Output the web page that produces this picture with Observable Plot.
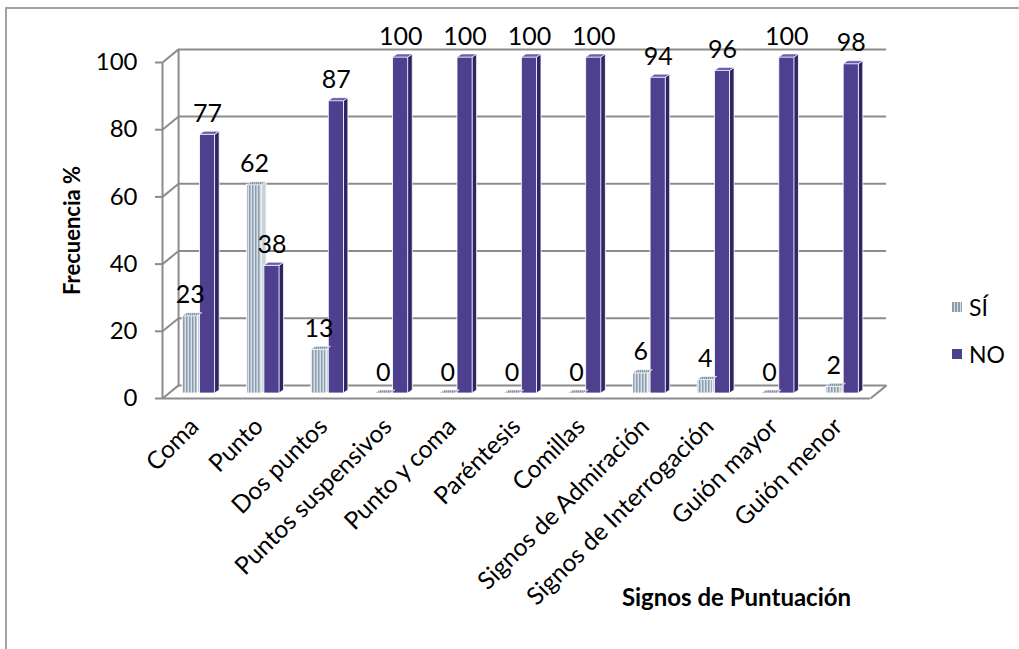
<!DOCTYPE html>
<html><head><meta charset="utf-8">
<script src="https://cdn.jsdelivr.net/npm/d3@7"></script>
<script src="https://cdn.jsdelivr.net/npm/@observablehq/plot@0.6"></script>
<style>
body{margin:0;overflow:hidden;background:#fff;font-family:Lato,sans-serif}
#wrap{position:relative;width:1019px;height:649px;overflow:hidden}
#border{position:absolute;left:5px;top:7px;width:1100px;height:800px;border-left:2px solid #a3a3a3;border-top:2px solid #a3a3a3}
#chart{position:absolute;left:0;top:0}
.leg{position:absolute;left:952px;font-size:23px;color:#000;display:flex;align-items:center}
.sw{width:10px;height:10px;margin-right:7px}
</style></head>
<body><div id="wrap"><div id="border"></div><div id="chart"></div>
<div class="leg" style="top:293px"><div class="sw" style="background:repeating-linear-gradient(90deg,#8a9cad 0 1.5px,#d8e0e7 1.5px 3px)"></div>SÍ</div>
<div class="leg" style="top:340px"><div class="sw" style="background:#4e3f8f"></div>NO</div>
</div>
<script>
const categories = ["Coma","Punto","Dos puntos","Puntos suspensivos","Punto y coma","Paréntesis","Comillas","Signos de Admiración","Signos de Interrogación","Guión mayor","Guión menor"];
const seriesNames = ["SÍ","NO"];
const si = [23,62,13,0,0,0,0,6,4,0,2];
const no = [77,38,87,100,100,100,100,94,96,100,98];
const yTicks = [0,20,40,60,80,100];

const FONT = "Lato, sans-serif";
const xDomain = [-0.5, categories.length - 0.5];
const depthX = 0.25, depthY = 3.9;     // back wall offset (scale units)
const sideW = 0.07, sideR = 0.9;       // bar side/top depth (scale units)
const barDx = 6, barDy = -5;

const bars = categories.flatMap((c, i) => [
  {k: c + "|SI", i, s: seriesNames[0], v: si[i], x1: i - 0.28, x2: i - 0.045},
  {k: c + "|NO", i, s: seriesNames[1], v: no[i], x1: i - 0.01, x2: i + 0.225}
]);
const sides = bars.flatMap(b => [
  {k: b.k, s: b.s, x: b.x2, y1: 0, y2: b.v},
  {k: b.k, s: b.s, x: b.x2 + sideW, y1: sideR, y2: b.v + sideR}
]);
const tops = bars.flatMap(b => [
  {k: b.k, s: b.s, x: b.x1, y1: b.v, y2: b.v},
  {k: b.k, s: b.s, x: b.x1 + sideW, y1: b.v, y2: b.v + sideR},
  {k: b.k, s: b.s, x: b.x2, y1: b.v, y2: b.v + sideR},
  {k: b.k, s: b.s, x: b.x2 + sideW, y1: b.v + sideR, y2: b.v + sideR}
]);
const faceFill = {"SÍ": "url(#siStripes)", "NO": "#4e3f8f"};
const sideFill = {"SÍ": "#c9d2da", "NO": "#2e2466"};
const topFill = {"SÍ": "url(#siTop)", "NO": "#6a5db0"};
const grid = "#8c8c8c";

const chart = Plot.plot({
  width: 1019, height: 649,
  marginLeft: 162, marginRight: 149, marginTop: 62, marginBottom: 251,
  x: {type: "linear", domain: xDomain, axis: null},
  y: {domain: [0, 100], axis: null},
  style: {fontFamily: FONT, color: "#000", background: "transparent"},
  marks: [
    Plot.ruleY(yTicks, {y: d => d + depthY, x1: xDomain[0] + depthX, x2: xDomain[1] + depthX, stroke: grid, strokeWidth: 2}),
    Plot.ruleX([xDomain[0] + depthX], {y1: depthY, y2: 100 + depthY, stroke: grid, strokeWidth: 2}),
    Plot.link(yTicks, {x1: xDomain[0], y1: d => d, x2: xDomain[0] + depthX, y2: d => d + depthY, stroke: grid, strokeWidth: 2}),
    Plot.link([0], {x1: xDomain[1], y1: 0, x2: xDomain[1] + depthX, y2: depthY, stroke: grid, strokeWidth: 2}),
    Plot.ruleY([0], {x1: xDomain[0], x2: xDomain[1], stroke: grid, strokeWidth: 2}),
    Plot.ruleX([xDomain[0]], {y1: 0, y2: 100, stroke: grid, strokeWidth: 2}),
    Plot.area(sides, {x1: "x", y1: "y1", y2: "y2", z: "k", fill: d => sideFill[d.s], stroke: "#fff", strokeWidth: 0.8, dx: barDx, dy: barDy}),
    Plot.rectY(bars, {x1: "x1", x2: "x2", y1: 0, y2: "v", fill: d => faceFill[d.s], stroke: "#fff", strokeWidth: 0.8, dx: barDx, dy: barDy}),
    Plot.area(tops, {x1: "x", y1: "y1", y2: "y2", z: "k", fill: d => topFill[d.s], stroke: "#fff", strokeWidth: 0.6, dx: barDx, dy: barDy}),
    Plot.text(bars, {x: d => (d.x1 + d.x2) / 2, y: "v", text: d => String(d.v), lineAnchor: "bottom", dx: barDx, dy: barDy - 13, fontSize: 25, fill: "#000"}),
    Plot.axisY(yTicks, {tickSize: 7, tickPadding: 18, stroke: grid, strokeWidth: 2, fontSize: 24, fill: "#000", label: null, anchor: "left"}),
    Plot.axisX(d3.range(categories.length), {tickFormat: i => categories[i], tickRotate: -45, tickSize: 0, tickPadding: 24, fontSize: 24.5, fill: "#000", label: null, anchor: "bottom"}),
    Plot.text(["Frecuencia %"], {text: d => d, frameAnchor: "left", textAnchor: "middle", rotate: -90, dx: -90, fontSize: 22, fontWeight: "bold", fill: "#000"}),
    Plot.text(["Signos de Puntuación"], {text: d => d, frameAnchor: "bottom", textAnchor: "middle", lineAnchor: "middle", dx: 220, dy: 200, fontSize: 24, fontWeight: "bold", fill: "#000"})
  ]
});
d3.select(chart).insert("defs", ":first-child").html(
  '<pattern id="siStripes" patternUnits="userSpaceOnUse" width="3" height="10"><rect width="3" height="10" fill="#d8e0e7"/><rect width="1.5" height="10" fill="#8a9cad"/></pattern>' +
  '<pattern id="siTop" patternUnits="userSpaceOnUse" width="2" height="2"><rect width="2" height="2" fill="#b5c0ca"/><rect width="1" height="2" fill="#7f8f9e"/></pattern>'
);
document.getElementById("chart").appendChild(chart);
</script>
</body></html>
